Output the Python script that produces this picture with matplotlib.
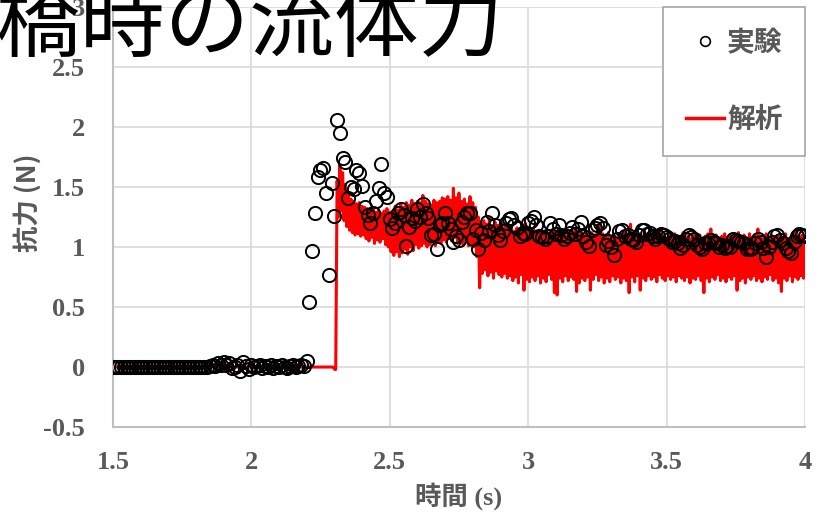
import matplotlib
matplotlib.use("Agg")
import matplotlib.pyplot as plt
import numpy as np
from matplotlib.lines import Line2D

# experiment (実験): one reading every 0.01 s from 1.50 s to 4.00 s
exp_force = [
    0.00, 0.00, 0.00, 0.00, 0.00, 0.00, 0.00, 0.00, 0.00, 0.00,
    0.00, 0.00, 0.00, 0.00, 0.00, 0.00, 0.00, 0.00, 0.00, 0.00,
    0.00, 0.00, 0.00, 0.00, 0.00, 0.00, 0.00, 0.00, 0.00, 0.00,
    0.00, 0.00, 0.00, 0.00, 0.00, 0.01, 0.02, 0.01, 0.03, 0.02,
    0.04, 0.02, 0.03, -0.01, 0.00, 0.02, -0.03, 0.04, 0.01, -0.02,
    0.02, 0.00, 0.01, 0.02, -0.01, 0.01, 0.00, 0.02, -0.01, 0.01,
    0.00, 0.02, 0.00, -0.01, 0.01, 0.02, 0.00, 0.01, 0.02, 0.01,
    0.05, 0.54, 0.97, 1.28, 1.58, 1.64, 1.66, 1.45, 0.77, 1.53,
    1.26, 2.06, 1.95, 1.74, 1.71, 1.41, 1.50, 1.48, 1.64, 1.62,
    1.51, 1.33, 1.27, 1.20, 1.28, 1.38, 1.49, 1.69, 1.45, 1.42,
    1.23, 1.16, 1.20, 1.28, 1.32, 1.27, 1.01, 1.17, 1.24, 1.22,
    1.32, 1.25, 1.36, 1.28, 1.24, 1.10, 1.11, 0.98, 1.18, 1.20,
    1.28, 1.20, 1.15, 1.04, 1.09, 1.06, 1.21, 1.25, 1.28, 1.28,
    1.07, 1.14, 0.98, 1.12, 1.06, 1.21, 1.13, 1.28, 1.18, 1.10,
    1.06, 1.13, 1.20, 1.23, 1.24, 1.18, 1.16, 1.09, 1.12, 1.11,
    1.20, 1.22, 1.25, 1.18, 1.09, 1.08, 1.07, 1.09, 1.20, 1.15,
    1.11, 1.18, 1.10, 1.07, 1.09, 1.12, 1.17, 1.11, 1.15, 1.21,
    1.09, 1.04, 1.01, 1.14, 1.16, 1.18, 1.20, 1.16, 1.02, 1.05,
    1.00, 0.93, 1.07, 1.13, 1.14, 1.09, 1.10, 1.07, 1.06, 1.04,
    1.10, 1.14, 1.14, 1.11, 1.12, 1.09, 1.07, 1.09, 1.11, 1.10,
    1.08, 1.07, 1.04, 1.05, 1.03, 0.99, 1.02, 1.07, 1.10, 1.08,
    1.07, 1.02, 1.00, 0.98, 1.03, 1.03, 1.06, 1.04, 1.03, 1.00,
    1.02, 0.99, 1.01, 1.00, 1.07, 1.06, 1.05, 1.04, 1.03, 0.98,
    0.98, 0.99, 1.03, 1.07, 1.04, 0.99, 0.92, 1.00, 1.04, 1.09,
    1.10, 1.06, 1.03, 0.99, 0.97, 0.95, 1.04, 1.09, 1.11, 1.10,
    1.09,
]

# analysis (解析): flat part before the jump
ana_flat_t = [1.50, 2.295, 2.302, 2.305]
ana_flat = [0.00, 0.00, -0.02, -0.02]

# analysis after the jump: top / bottom of the oscillation, every 0.01 s from 2.31 s
ana_upper = [
    1.55, 1.68, 1.62, 1.52, 1.45, 1.40, 1.38, 1.36, 1.37, 1.34,
    1.33, 1.32, 1.30, 1.33, 1.29, 1.31, 1.28, 1.30, 1.32, 1.29,
    1.30, 1.34, 1.31, 1.36, 1.33, 1.37, 1.35, 1.39, 1.36, 1.38,
    1.37, 1.43, 1.38, 1.36, 1.35, 1.39, 1.37, 1.38, 1.41, 1.40,
    1.42, 1.39, 1.49, 1.41, 1.45, 1.38, 1.40, 1.36, 1.42, 1.37,
    1.33, 1.25, 1.18, 1.22, 1.19, 1.24, 1.17, 1.21, 1.18, 1.20,
    1.16, 1.19, 1.14, 1.17, 1.13, 1.16, 1.12, 1.15, 1.20, 1.14,
    1.12, 1.15, 1.11, 1.14, 1.10, 1.13, 1.09, 1.12, 1.15, 1.11,
    1.13, 1.10, 1.14, 1.09, 1.12, 1.11, 1.15, 1.10, 1.13, 1.09,
    1.11, 1.08, 1.12, 1.10, 1.13, 1.20, 1.11, 1.09, 1.12, 1.08,
    1.10, 1.07, 1.11, 1.09, 1.12, 1.08, 1.19, 1.10, 1.07, 1.11,
    1.09, 1.12, 1.08, 1.11, 1.07, 1.10, 1.08, 1.12, 1.09, 1.07,
    1.10, 1.08, 1.11, 1.07, 1.09, 1.12, 1.08, 1.10, 1.07, 1.11,
    1.08, 1.10, 1.07, 1.09, 1.11, 1.15, 1.08, 1.10, 1.07, 1.09,
    1.11, 1.08, 1.10, 1.07, 1.09, 1.12, 1.08, 1.10, 1.07, 1.11,
    1.08, 1.10, 1.15, 1.09, 1.07, 1.11, 1.08, 1.10, 1.07, 1.09,
    1.10, 1.08, 1.11, 1.07, 1.09, 1.12, 1.15, 1.08, 1.10, 1.09,
]
ana_lower = [
    1.25, 1.30, 1.22, 1.17, 1.14, 1.12, 1.10, 1.11, 1.09, 1.10,
    1.07, 1.05, 1.08, 1.03, 1.06, 1.04, 1.07, 1.02, 1.00, 0.96,
    0.93, 0.96, 0.92, 0.95, 0.98, 0.94, 1.00, 0.97, 1.02, 0.99,
    1.01, 1.03, 1.00, 1.02, 1.04, 1.01, 1.05, 1.03, 1.06, 1.04,
    1.07, 1.05, 1.08, 1.03, 1.06, 1.02, 1.04, 1.01, 1.03, 1.00,
    0.92, 0.66, 0.78, 0.81, 0.76, 0.79, 0.74, 0.80, 0.77, 0.75,
    0.78, 0.74, 0.76, 0.72, 0.75, 0.70, 0.77, 0.64, 0.73, 0.71,
    0.75, 0.72, 0.76, 0.70, 0.74, 0.71, 0.77, 0.73, 0.62, 0.60,
    0.74, 0.71, 0.76, 0.72, 0.75, 0.73, 0.63, 0.70, 0.74, 0.72,
    0.75, 0.64, 0.73, 0.77, 0.72, 0.75, 0.70, 0.74, 0.71, 0.76,
    0.73, 0.75, 0.70, 0.74, 0.72, 0.62, 0.75, 0.71, 0.76, 0.64,
    0.74, 0.72, 0.76, 0.73, 0.75, 0.71, 0.77, 0.74, 0.72, 0.76,
    0.73, 0.75, 0.71, 0.76, 0.74, 0.72, 0.75, 0.70, 0.74, 0.73,
    0.76, 0.72, 0.62, 0.74, 0.71, 0.75, 0.73, 0.77, 0.72, 0.74,
    0.71, 0.75, 0.73, 0.76, 0.64, 0.72, 0.74, 0.70, 0.75, 0.73,
    0.76, 0.72, 0.74, 0.71, 0.75, 0.73, 0.77, 0.72, 0.74, 0.70,
    0.63, 0.74, 0.72, 0.76, 0.71, 0.75, 0.73, 0.76, 0.74, 0.75,
]

x_ticks = [1.5, 2, 2.5, 3, 3.5, 4]
y_ticks = [-0.5, 0, 0.5, 1, 1.5, 2, 2.5, 3]

GRAY = "#595959"
CJK = ["Noto Sans CJK JP", "DejaVu Sans"]
SERIF_CJK = ["Liberation Serif", "Noto Sans CJK JP"]

exp_t = 1.5 + 0.01 * np.arange(len(exp_force))
band_t = 2.31 + 0.01 * np.arange(len(ana_upper))

# saw between the top and bottom readings so it looks like the dense signal
zz_t = np.empty(2 * len(band_t))
zz_v = np.empty(2 * len(band_t))
zz_t[0::2] = band_t
zz_t[1::2] = band_t + 0.005
zz_v[0::2] = ana_upper
zz_v[1::2] = ana_lower
ana_t = np.concatenate([ana_flat_t, zz_t])
ana_v = np.concatenate([ana_flat, zz_v])

fig = plt.figure(figsize=(8.18, 5.17), dpi=100)
ax = fig.add_axes([0.138, 0.174, 0.846, 0.8125])

ax.plot(ana_t, ana_v, color="#ff0000", lw=2.2, zorder=2)
ax.plot(exp_t, exp_force, ls="none", marker="o", ms=9.5, mfc="none",
        mec="black", mew=1.4, zorder=3)

ax.set_xlim(1.5, 4)
ax.set_ylim(-0.5, 3)
ax.set_xticks(x_ticks)
ax.set_yticks(y_ticks)
ax.set_xticklabels([f"{v:g}" for v in x_ticks])
ax.set_yticklabels([f"{v:g}" for v in y_ticks])
for lab in ax.get_xticklabels() + ax.get_yticklabels():
    lab.set_family("Liberation Serif")
    lab.set_fontweight("bold")
    lab.set_fontsize(19)
    lab.set_color(GRAY)
ax.tick_params(axis="both", length=0)
ax.tick_params(axis="x", pad=17)
ax.tick_params(axis="y", pad=20)

ax.grid(True, color="#d9d9d9", lw=1.2)
ax.set_axisbelow(True)
for side in ["top", "right"]:
    ax.spines[side].set_visible(False)
for side in ["left", "bottom"]:
    ax.spines[side].set_color("#bfbfbf")
    ax.spines[side].set_linewidth(1.5)

ax.set_xlabel("時間 (s)", family=SERIF_CJK, fontweight="bold", fontsize=19,
              color=GRAY, labelpad=6)
ax.set_ylabel("抗力 (N)", family=CJK, fontweight="bold", fontsize=19,
              color=GRAY)
ax.yaxis.set_label_coords(-0.103, 0.533)

handles = [
    Line2D([], [], ls="none", marker="o", ms=7, mfc="none", mec="black", mew=1.2),
    Line2D([], [], color="#ff0000", lw=2.5),
]
leg = ax.legend(handles, ["実験", "解析"], loc="upper right",
                bbox_to_anchor=(1.0, 1.0), borderaxespad=0, fancybox=False,
                framealpha=1, edgecolor="#a6a6a6", labelspacing=1.75,
                handlelength=1.4, handletextpad=0.1, borderpad=0.8,
                prop={"family": CJK, "weight": "bold", "size": 20})
leg.get_frame().set_linewidth(1.2)
for t in leg.get_texts():
    t.set_color(GRAY)

fig.text(-0.006, 1 - 50 / 517, "橋時の流体力", family=CJK, fontsize=61,
         color="black", va="baseline", ha="left")

fig.savefig("out.png", dpi=100)
